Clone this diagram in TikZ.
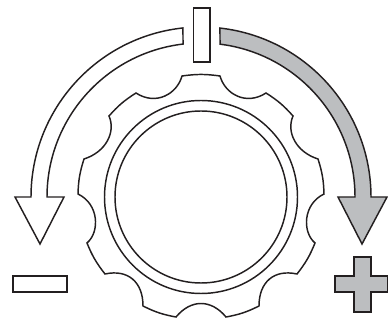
\documentclass[tikz,border=0pt]{standalone}
\usepackage{xcolor}
\usepackage{tikz}
\definecolor{knobline}{HTML}{231F20}
\definecolor{knobgray}{HTML}{BCBEC0}
\tikzset{
  outline/.style={draw=knobline, line width=1.1pt, line join=miter},
  increase/.style={outline, fill=knobgray},
  rim/.style={bend left=8},
}
\begin{document}
\begin{tikzpicture}[x=0.75pt, y=0.75pt]
  \useasboundingbox (0,0) rectangle (388,320);

  % start mark
  \draw[outline] (193.5,258) rectangle (210,312);

  % minus side
  \draw[outline] (201,123) ++(96.1:170) arc[start angle=96.1, end angle=180, radius=170]
    -- (15,123) -- (40,76) -- (64,123) -- (47,123)
    arc[start angle=180, end angle=96.7, radius=154] -- cycle;
  \draw[outline] (13,28) rectangle (67,44);

  % plus side
  \draw[increase] (201,123) ++(83.6:170) arc[start angle=83.6, end angle=0, radius=170]
    -- (387,123) -- (362,76) -- (338,123) -- (355,123)
    arc[start angle=0, end angle=82.9, radius=154] -- cycle;
  \draw[increase] (354,63) -- (371,63) -- (371,44) -- (388,44) -- (388,28) -- (371,28)
    -- (371,8) -- (354,8) -- (354,28) -- (335,28) -- (335,44) -- (354,44) -- cycle;

  % knob
  \draw[outline] (182,244) to[rim] (220,244)
    .. controls (225,226) and (246,214) .. (266,227) to[rim] (293,204)
    .. controls (286,188) and (296,168) .. (318,161) to[rim] (324,126)
    .. controls (303,116) and (302,88) .. (315,77) to[rim] (297,46)
    .. controls (274,51) and (259,38) .. (259,14) to[rim] (226,3)
    .. controls (211,21) and (191,21) .. (176,3) to[rim] (143,14)
    .. controls (143,38) and (128,51) .. (105,46) to[rim] (87,77)
    .. controls (100,88) and (99,116) .. (78,126) to[rim] (84,161)
    .. controls (106,168) and (116,188) .. (109,204) to[rim] (136,227)
    .. controls (156,214) and (177,226) .. (182,244) -- cycle;
  \draw[outline] (201,123) circle[radius=96.5];
  \draw[outline] (201,123) circle[radius=86];
\end{tikzpicture}
\end{document}
